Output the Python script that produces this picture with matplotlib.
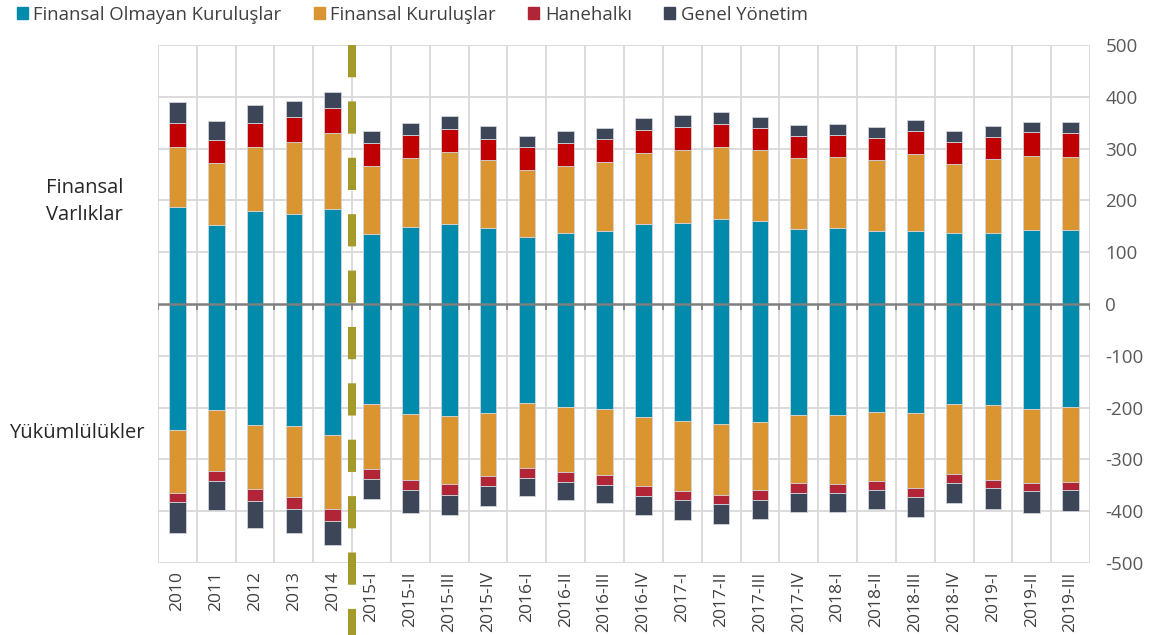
import matplotlib

matplotlib.use("Agg")
import matplotlib.pyplot as plt
from matplotlib.patches import Patch
import numpy as np

plt.rcParams["font.family"] = ["Open Sans", "DejaVu Sans"]
plt.rcParams["axes.unicode_minus"] = False

periods = ["2010", "2011", "2012", "2013", "2014",
           "2015-I", "2015-II", "2015-III", "2015-IV",
           "2016-I", "2016-II", "2016-III", "2016-IV",
           "2017-I", "2017-II", "2017-III", "2017-IV",
           "2018-I", "2018-II", "2018-III", "2018-IV",
           "2019-I", "2019-II", "2019-III"]

# Finansal varliklar (positive side)
asset_nonfin = [188, 153, 180, 174, 184, 135, 149, 154, 147, 129, 137, 141,
                155, 157, 163, 161, 145, 147, 140, 140, 136, 136, 143, 143]
asset_fin = [115, 119, 123, 139, 146, 131, 133, 140, 130, 130, 130, 133,
             137, 140, 140, 136, 137, 136, 138, 150, 134, 143, 143, 140]
asset_hh = [46, 44, 46, 47, 49, 44, 44, 44, 42, 44, 44, 44,
            44, 44, 45, 43, 43, 43, 43, 44, 43, 44, 45, 46]
asset_gov = [40, 37, 35, 32, 30, 23, 24, 24, 25, 22, 23, 22,
             23, 23, 22, 21, 21, 21, 20, 21, 20, 21, 21, 22]

# Yukumlulukler (negative side)
liab_nonfin = [-243, -205, -234, -235, -252, -194, -212, -217, -211, -192, -199, -203,
               -219, -225, -231, -228, -214, -215, -208, -211, -193, -196, -203, -199]
liab_fin = [-121, -117, -124, -137, -143, -124, -127, -131, -122, -124, -125, -127,
            -132, -136, -137, -132, -132, -132, -134, -145, -136, -143, -143, -144]
liab_hh = [-18, -19, -22, -24, -24, -19, -20, -20, -19, -19, -19, -19,
           -19, -18, -18, -18, -18, -18, -18, -17, -16, -16, -15, -16]
liab_gov = [-60, -56, -53, -47, -46, -39, -45, -39, -38, -35, -36, -36,
            -37, -38, -38, -37, -37, -36, -36, -39, -39, -41, -42, -41]

c_teal = "#008BAD"
c_orange = "#DA9430"
c_red_pos = "#C00000"
c_red_neg = "#B22537"
c_navy = "#3D4659"
grid_c = "#D9D9D9"
text_c = "#404040"

fig = plt.figure(figsize=(11.59, 6.35), dpi=100)
ax = fig.add_axes([0.1363, 0.1134, 0.8042, 0.8159])

x = np.arange(len(periods))
w = 0.43
edge = dict(edgecolor="#D0D4D9", linewidth=0.6, zorder=3)

# positive stack
bottom = np.zeros(len(x))
for vals, col in [(asset_nonfin, c_teal), (asset_fin, c_orange),
                  (asset_hh, c_red_pos), (asset_gov, c_navy)]:
    ax.bar(x, vals, w, bottom=bottom, color=col, **edge)
    bottom += np.array(vals)

# negative stack
bottom = np.zeros(len(x))
for vals, col in [(liab_nonfin, c_teal), (liab_fin, c_orange),
                  (liab_hh, c_red_neg), (liab_gov, c_navy)]:
    ax.bar(x, vals, w, bottom=bottom, color=col, **edge)
    bottom += np.array(vals)

ax.set_xlim(-0.5, len(x) - 0.5)
ax.set_ylim(-500, 500)

# grid: horizontal every 100, vertical at category boundaries
for yv in range(-500, 501, 100):
    if yv != 0:
        ax.axhline(yv, color=grid_c, lw=1.3, zorder=0)
bounds = np.arange(len(x) + 1) - 0.5
ax.vlines(bounds, -500, 500, color=grid_c, lw=1.3, zorder=0)

# zero axis with small tick marks
ax.axhline(0, color="#7F7F7F", lw=1.8, zorder=4)
ax.vlines(bounds, -11, 0, color="#7F7F7F", lw=1.3, zorder=4)

# break between annual and quarterly data
ax.plot([4.5, 4.5], [500, -640], color="#A39A2B", lw=5.8,
        dashes=(4, 3), solid_capstyle="butt", dash_capstyle="butt",
        clip_on=False, zorder=5)

for s in ax.spines.values():
    s.set_visible(False)

ax.yaxis.tick_right()
ax.set_yticks(range(-500, 501, 100))
ax.tick_params(axis="y", length=0, pad=11, labelsize=13.5, labelcolor="#595959")
ax.set_xticks(x)
ax.set_xticklabels(periods, rotation=90)
ax.tick_params(axis="x", length=0, pad=6, labelsize=12.5, labelcolor=text_c)

fig.text(0.073, 0.683, "Finansal\nVarlıklar", ha="center", va="center",
         fontsize=14.5, color="#262626", linespacing=1.45)
fig.text(0.066, 0.318, "Yükümlülükler", ha="center", va="center",
         fontsize=14.5, color="#262626")

handles = [Patch(color=c_teal), Patch(color=c_orange),
           Patch(color=c_red_neg), Patch(color=c_navy)]
labels = ["Finansal Olmayan Kuruluşlar", "Finansal Kuruluşlar", "Hanehalkı", "Genel Yönetim"]
leg = fig.legend(handles, labels, loc="upper left", bbox_to_anchor=(0.0, 1.017),
                 ncol=4, frameon=False, handlelength=0.6, handleheight=0.6,
                 handletextpad=0.3, columnspacing=1.75, fontsize=13.3)
for t in leg.get_texts():
    t.set_color(text_c)

fig.savefig("out.png", dpi=100)
plt.close(fig)
